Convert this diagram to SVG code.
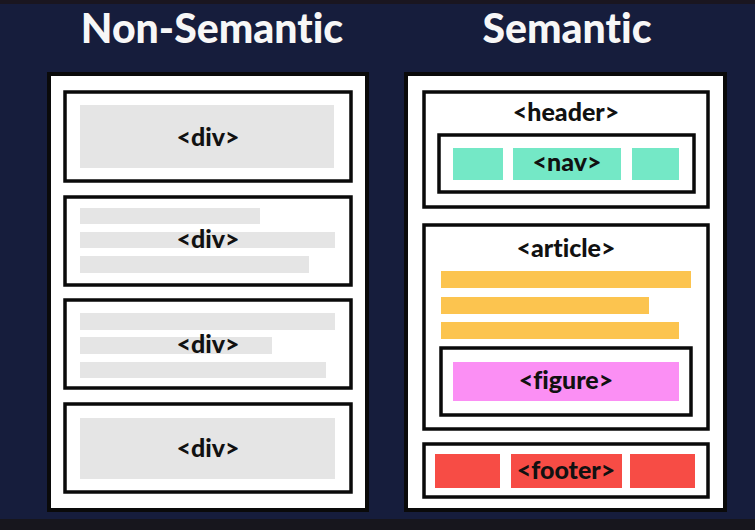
<svg xmlns="http://www.w3.org/2000/svg" width="755" height="530" viewBox="0 0 755 530">
<style>
text{font-variant-ligatures:none;font-feature-settings:"liga" 0,"dlig" 0}
.title{font-family:"Lato","Open Sans",sans-serif;font-weight:900;font-size:41px;fill:#f7f7f7;text-anchor:middle}
.lbl{font-family:"Lato","Open Sans",sans-serif;font-weight:900;font-size:25px;fill:#111;text-anchor:middle}
.panel{fill:#fff;stroke:#0a0a0a;stroke-width:4}
.box{fill:#fff;stroke:#0a0a0a;stroke-width:3.5}
.gray{fill:#e5e5e5}
.teal{fill:#74e8c6}
.yel{fill:#fcc44f}
.pink{fill:#fb8ff4}
.red{fill:#f74c45}
</style>
<rect x="0" y="0" width="755" height="530" fill="#161d3c"/>
<rect x="0" y="0" width="755" height="4" fill="#1a1620"/>
<rect x="0" y="519" width="755" height="11" fill="#17161d"/>
<text class="title" x="212" y="43">Non-Semantic</text>
<text class="title" x="567" y="43">Semantic</text>
<g id="left-panel">
<rect class="panel" x="49" y="74" width="318" height="436"/>
</g>
<g id="div1">
<rect class="box" x="65" y="92" width="286" height="89"/>
<rect class="gray" x="80" y="105" width="254" height="63"/>
<text class="lbl" x="208" y="146">&lt;div&gt;</text>
</g>
<g id="div2">
<rect class="box" x="65" y="197" width="286" height="88"/>
<rect class="gray" x="80" y="208" width="180" height="16"/>
<rect class="gray" x="80" y="232" width="255" height="16"/>
<rect class="gray" x="80" y="256" width="229" height="17"/>
<text class="lbl" x="208" y="248">&lt;div&gt;</text>
</g>
<g id="div3">
<rect class="box" x="65" y="300" width="286" height="88"/>
<rect class="gray" x="80" y="313" width="255" height="17"/>
<rect class="gray" x="80" y="337" width="192" height="17"/>
<rect class="gray" x="80" y="362" width="246" height="16"/>
<text class="lbl" x="208" y="353">&lt;div&gt;</text>
</g>
<g id="div4">
<rect class="box" x="65" y="404" width="286" height="88"/>
<rect class="gray" x="80" y="418" width="255" height="61"/>
<text class="lbl" x="208" y="457">&lt;div&gt;</text>
</g>
<g id="right-panel">
<rect class="panel" x="406" y="74" width="319" height="436"/>
</g>
<g id="header">
<rect class="box" x="424" y="92" width="284" height="115"/>
<text class="lbl" x="566" y="121">&lt;header&gt;</text>
</g>
<g id="nav">
<rect class="box" x="439" y="135" width="255" height="57"/>
<rect class="teal" x="453" y="148" width="50" height="32"/>
<rect class="teal" x="513" y="148" width="108" height="32"/>
<rect class="teal" x="632" y="148" width="47" height="32"/>
<text class="lbl" x="567" y="171">&lt;nav&gt;</text>
</g>
<g id="article">
<rect class="box" x="424" y="225" width="284" height="204"/>
<text class="lbl" x="566" y="257">&lt;article&gt;</text>
<rect class="yel" x="441" y="271" width="250" height="17"/>
<rect class="yel" x="441" y="297" width="208" height="17"/>
<rect class="yel" x="441" y="322" width="238" height="17"/>
</g>
<g id="figure">
<rect class="box" x="441" y="348" width="250" height="67"/>
<rect class="pink" x="453" y="362" width="226" height="39"/>
<text class="lbl" x="566" y="389">&lt;figure&gt;</text>
</g>
<g id="footer">
<rect class="box" x="424" y="444" width="284" height="53"/>
<rect class="red" x="435" y="454" width="65" height="34"/>
<rect class="red" x="511" y="454" width="111" height="34"/>
<rect class="red" x="630" y="454" width="65" height="34"/>
<text class="lbl" x="566" y="479">&lt;footer&gt;</text>
</g>
<g id="connectors"/>
</svg>
